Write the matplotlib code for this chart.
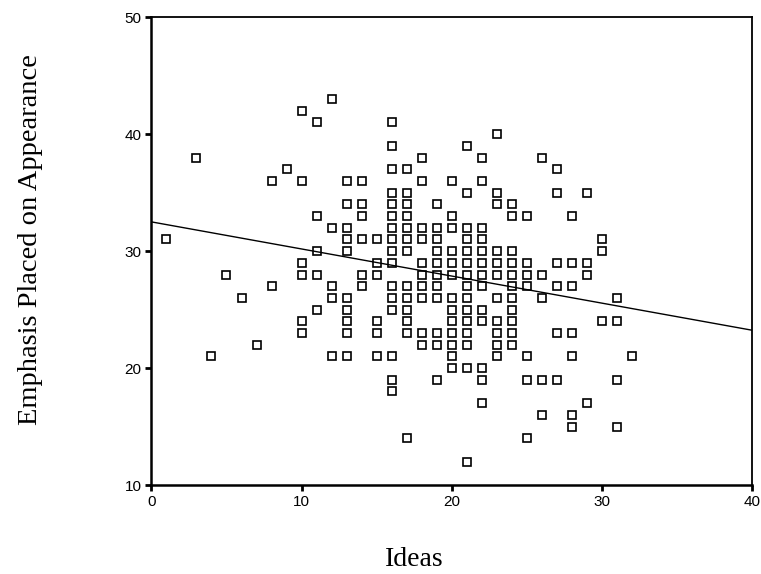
import numpy as np
import matplotlib
matplotlib.use("Agg")
import matplotlib.pyplot as plt

# (Ideas, Emphasis) pairs, grouped by Ideas value
ideas = [
    1, 3, 4, 5, 6, 7, 8, 8, 9,
    10, 10, 10, 10, 10, 10,
    11, 11, 11, 11, 11,
    12, 12, 12, 12, 12,
    13, 13, 13, 13, 13, 13, 13, 13, 13, 13,
    14, 14, 14, 14, 14, 14,
    15, 15, 15, 15, 15, 15,
    16, 16, 16, 16, 16, 16, 16, 16, 16, 16, 16, 16, 16, 16, 16, 16,
    17, 17, 17, 17, 17, 17, 17, 17, 17, 17, 17, 17, 17,
    18, 18, 18, 18, 18, 18, 18, 18, 18, 18,
    19, 19, 19, 19, 19, 19, 19, 19, 19, 19, 19,
    20, 20, 20, 20, 20, 20, 20, 20, 20, 20, 20, 20, 20,
    21, 21, 21, 21, 21, 21, 21, 21, 21, 21, 21, 21, 21, 21, 21,
    22, 22, 22, 22, 22, 22, 22, 22, 22, 22, 22, 22, 22,
    23, 23, 23, 23, 23, 23, 23, 23, 23, 23, 23,
    24, 24, 24, 24, 24, 24, 24, 24, 24, 24, 24,
    25, 25, 25, 25, 25, 25, 25,
    26, 26, 26, 26, 26,
    27, 27, 27, 27, 27, 27,
    28, 28, 28, 28, 28, 28, 28,
    29, 29, 29, 29,
    30, 30, 30,
    31, 31, 31, 31,
    32,
]
emphasis = [
    31, 38, 21, 28, 26, 22, 36, 27, 37,
    42, 36, 29, 28, 24, 23,
    41, 33, 30, 28, 25,
    43, 32, 27, 26, 21,
    36, 34, 32, 31, 30, 26, 25, 24, 23, 21,
    36, 34, 33, 31, 28, 27,
    31, 29, 28, 24, 23, 21,
    41, 39, 37, 35, 34, 33, 32, 31, 30, 29, 27, 26, 25, 21, 19, 18,
    37, 35, 34, 33, 32, 31, 30, 27, 26, 25, 24, 23, 14,
    38, 36, 32, 31, 29, 28, 27, 26, 23, 22,
    34, 32, 31, 30, 29, 28, 27, 26, 23, 22, 19,
    36, 33, 32, 30, 29, 28, 26, 25, 24, 23, 22, 21, 20,
    39, 35, 32, 31, 30, 29, 28, 27, 26, 25, 24, 23, 22, 20, 12,
    38, 36, 32, 31, 30, 29, 28, 27, 25, 24, 20, 19, 17,
    40, 35, 34, 30, 29, 28, 26, 24, 23, 22, 21,
    34, 33, 30, 29, 28, 27, 26, 25, 24, 23, 22,
    33, 29, 28, 27, 21, 19, 14,
    38, 28, 26, 19, 16,
    37, 35, 29, 27, 23, 19,
    33, 29, 27, 23, 21, 16, 15,
    35, 29, 28, 17,
    31, 30, 24,
    26, 24, 19, 15,
    21,
]

# fitted line as drawn in the figure
fit_intercept = 32.5
fit_slope = -0.2315

x_ticks = [0, 10, 20, 30, 40]
y_ticks = [10, 20, 30, 40, 50]

serif = ["Liberation Serif", "DejaVu Serif"]

fig = plt.figure(figsize=(7.61, 5.74), dpi=100)
ax = fig.add_axes([0.199, 0.155, 0.789, 0.815])

ax.plot(ideas, emphasis, linestyle="none", marker="s", markersize=5.4,
        markerfacecolor="white", markeredgecolor="black", markeredgewidth=1.2)

xs = np.array([0, 40])
ax.plot(xs, fit_intercept + fit_slope * xs, color="black", lw=1.0)

ax.set_xlim(0, 40)
ax.set_ylim(10, 50)
ax.set_xticks(x_ticks)
ax.set_yticks(y_ticks)
ax.tick_params(direction="out", length=4, width=2, color="black", pad=3,
               labelsize=11)
for lab in ax.get_xticklabels() + ax.get_yticklabels():
    lab.set_family(["Liberation Sans", "DejaVu Sans"])

for side in ["left", "bottom"]:
    ax.spines[side].set_linewidth(1.8)
for side in ["top", "right"]:
    ax.spines[side].set_linewidth(1.3)

# axis titles sit off-centre in the original, so place them on the figure
fig.text(414 / 761, 1 - 559 / 574, "Ideas", family=serif, fontsize=20,
         ha="center", va="center")
fig.text(31 / 761, 1 - 240 / 574, "Emphasis Placed on Appearance",
         family=serif, fontsize=20.5, rotation=90, ha="center", va="center")

fig.savefig("out.png", dpi=100)
